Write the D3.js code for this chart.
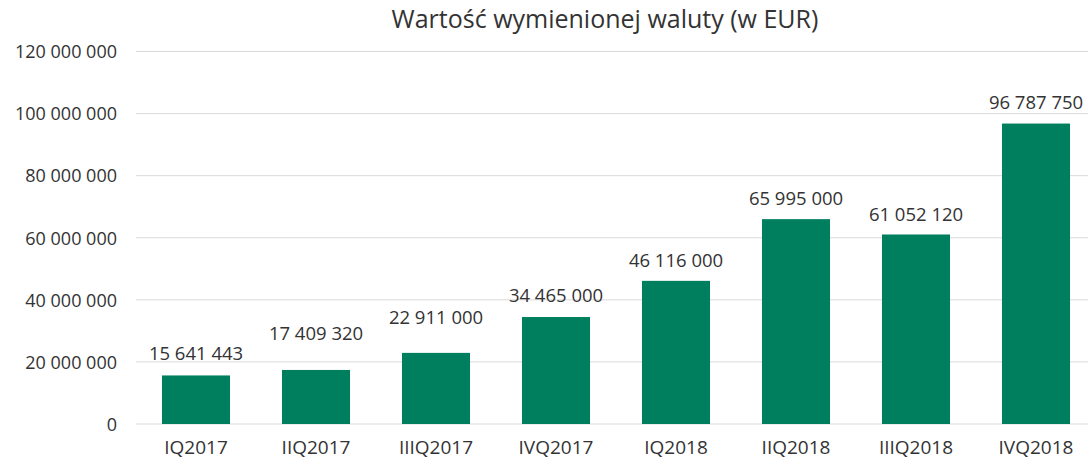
<!DOCTYPE html>
<html>
<head>
<meta charset="utf-8">
<script src="https://cdn.jsdelivr.net/npm/d3@7"></script>
<style>
  body { margin:0; background:#fff; }
  svg text { font-family: "Open Sans", "Noto Sans", sans-serif; fill:#333; }
</style>
</head>
<body>
<div id="chart"></div>
<script>
// Wartość wymienionej waluty – kwartały 2017/2018
const categories = ["IQ2017","IIQ2017","IIIQ2017","IVQ2017","IQ2018","IIQ2018","IIIQ2018","IVQ2018"];
const values = [15641443, 17409320, 22911000, 34465000, 46116000, 65995000, 61052120, 96787750];
const yTicks = [0, 20000000, 40000000, 60000000, 80000000, 100000000, 120000000];
const title = "Wartość wymienionej waluty (w EUR)";
// odstęp etykiety nad słupkiem (px) – w oryginale przesunięte ręcznie
const labelGap = [15, 30, 29, 15, 14, 14, 13, 15];

const W = 1090, H = 459;
const fmt = v => d3.format(",")(v).replace(/,/g, " ");

const svg = d3.select("#chart").append("svg").attr("width", W).attr("height", H);

const x = d3.scaleBand().domain(categories).range([136, 1096]).paddingInner(0.433).paddingOuter(0.2165);
const y = d3.scaleLinear().domain([0, 120000000]).range([424, 51.5]);

// siatka
svg.append("g").selectAll("line").data(yTicks).join("line")
  .attr("x1", 136).attr("x2", 1088)
  .attr("y1", d => y(d)).attr("y2", d => y(d))
  .attr("stroke", "#d9d9d9").attr("stroke-width", 1);

// oś Y
const ay = d3.axisLeft(y).tickValues(yTicks).tickFormat(fmt).tickSize(0).tickPadding(0);
svg.append("g").attr("transform", "translate(117,0)").call(ay)
  .call(g => g.select(".domain").remove())
  .selectAll("text").attr("font-size", 18).attr("dy", "0.35em");

// oś X
const ax = d3.axisBottom(x).tickSize(0).tickPadding(0);
svg.append("g").attr("transform", "translate(0,440)").call(ax)
  .call(g => g.select(".domain").remove())
  .selectAll("text").attr("font-size", 19).attr("dy", "0.71em");

// słupki
svg.append("g").selectAll("rect").data(values).join("rect")
  .attr("x", (d, i) => x(categories[i]))
  .attr("width", x.bandwidth())
  .attr("y", d => y(d))
  .attr("height", d => y(0) - y(d))
  .attr("fill", "#007f5f");

// etykiety wartości
svg.append("g").selectAll("text").data(values).join("text")
  .attr("x", (d, i) => x(categories[i]) + x.bandwidth() / 2)
  .attr("y", (d, i) => y(d) - labelGap[i])
  .attr("text-anchor", "middle").attr("font-size", 18.5)
  .text(fmt);

svg.append("text").attr("x", 605).attr("y", 28).attr("text-anchor", "middle")
  .attr("font-size", 25).text(title);
</script>
</body>
</html>
